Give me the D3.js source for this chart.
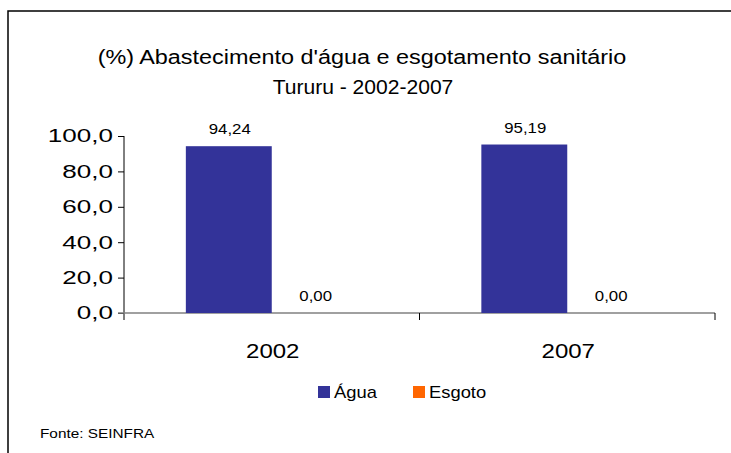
<!DOCTYPE html>
<html>
<head>
<meta charset="utf-8">
<script src="https://cdn.jsdelivr.net/npm/d3@7"></script>
<style>
  body { margin: 0; background: #fff; }
  text { font-family: "Liberation Sans", Arial, sans-serif; fill: #000; }
</style>
</head>
<body>
<svg width="731" height="453"></svg>
<script>
/* Data */

var years = ["2002", "2007"];
var series = ["Água", "Esgoto"];
var agua = [94.24, 95.19];
var esgoto = [0.00, 0.00];
var yTicks = [0, 20, 40, 60, 80, 100];
var colors = ["#333399", "#ff6600"];

var svg = d3.select("svg");

var plotLeft = 124, plotRight = 715,
    plotTop = 136, plotBottom = 313;

var fmt = (v, n) => v.toFixed(n).replace(".", ",");

// the source image is stretched sideways, so widen glyphs a bit
var stretch = (sel, k) => {
  sel.each(function() {
    var len = this.getComputedTextLength();
    d3.select(this)
      .attr("textLength", len * k)
      .attr("lengthAdjust", "spacingAndGlyphs");
  });
};

// frame (only top and left edges visible)
svg.append("path")
  .attr("d", "M8,453 L8,11 L731,11")
  .attr("fill", "none")
  .attr("stroke", "#000")
  .attr("stroke-width", 1.5);

/* Title */

svg.append("text")
  .attr("x", 362).attr("y", 64)
  .attr("text-anchor", "middle")
  .style("font-size", "19.5px")
  .text("(%) Abastecimento d'água e esgotamento sanitário")
  .call(stretch, 1.2);

svg.append("text")
  .attr("x", 363).attr("y", 94)
  .attr("text-anchor", "middle")
  .style("font-size", "19.5px")
  .text("Tururu - 2002-2007")
  .call(stretch, 1.08);

/* Scales */

var x = d3.scaleBand()
  .domain(years)
  .range([plotLeft, plotRight]);

var xs = d3.scaleBand()
  .domain(series)
  .range([0, x.bandwidth()])
  .paddingOuter(0.72);

var y = d3.scaleLinear()
  .domain([0, 100])
  .range([plotBottom, plotTop]);

/* Axes */

var yAxis = svg.append("g")
  .attr("transform", `translate(${plotLeft},0)`)
  .call(d3.axisLeft(y).tickValues(yTicks).tickSize(6).tickPadding(5)
    .tickFormat((d) => fmt(d, 1)));
yAxis.select(".domain")
  .attr("d", `M0,${plotTop}V${plotBottom + 7}`)
  .attr("stroke", "#000");
yAxis.selectAll("line").attr("stroke", "#000");
yAxis.selectAll("text")
  .style("font-size", "18.6px")
  .style("font-family", "'Liberation Sans', Arial, sans-serif")
  .call(stretch, 1.4);

var xAxisG = svg.append("g")
  .attr("transform", `translate(0,${plotBottom})`);
xAxisG.append("line")
  .attr("x1", plotLeft - 6).attr("x2", plotRight)
  .attr("stroke", "#808080").attr("stroke-width", 1.5);
xAxisG.selectAll(".sep")
  .data(years.slice(1).map((d) => x(d)).concat([plotRight]))
  .enter().append("line")
  .attr("x1", (d) => d)
  .attr("x2", (d) => d)
  .attr("y1", 0).attr("y2", 7)
  .attr("stroke", "#000");
xAxisG.selectAll(".cat")
  .data(years)
  .enter().append("text")
  .attr("x", (d) => x(d) + x.bandwidth() / 2 + 1)
  .attr("y", 45)
  .attr("text-anchor", "middle")
  .style("font-size", "20px")
  .text((d) => d)
  .call(stretch, 1.2);

/* Bars */

var rows = [];
years.forEach((yr, i) => {
  rows.push({ year: yr, s: series[0], v: agua[i], c: colors[0] });
  rows.push({ year: yr, s: series[1], v: esgoto[i], c: colors[1] });
});

svg.selectAll(".bar")
  .data(rows)
  .enter().append("rect")
  .attr("x", (d) => x(d.year) + xs(d.s))
  .attr("y", (d) => y(d.v))
  .attr("width", xs.bandwidth())
  .attr("height", (d) => y(0) - y(d.v))
  .attr("fill", (d) => d.c);

svg.selectAll(".val")
  .data(rows)
  .enter().append("text")
  .attr("x", (d) => x(d.year) + xs(d.s) + xs.bandwidth() / 2 + 1)
  .attr("y", (d) => y(d.v) - 12)
  .attr("text-anchor", "middle")
  .style("font-size", "15px")
  .text((d) => fmt(d.v, 2))
  .call(stretch, 1.12);

/* Legend */

var legX = [318, 413];
var leg = svg.selectAll(".leg")
  .data(series)
  .enter().append("g")
  .attr("transform", (d, i) => `translate(${legX[i]},386)`);
leg.append("rect")
  .attr("width", 12).attr("height", 12)
  .attr("fill", (d, i) => colors[i]);
leg.append("text")
  .attr("x", 16).attr("y", 12)
  .style("font-size", "17px")
  .text((d) => d)
  .call(stretch, 1.08);

/* Source */

svg.append("text")
  .attr("x", 40).attr("y", 438)
  .style("font-size", "13px")
  .text("Fonte: SEINFRA")
  .call(stretch, 1.18);
</script>
</body>
</html>
